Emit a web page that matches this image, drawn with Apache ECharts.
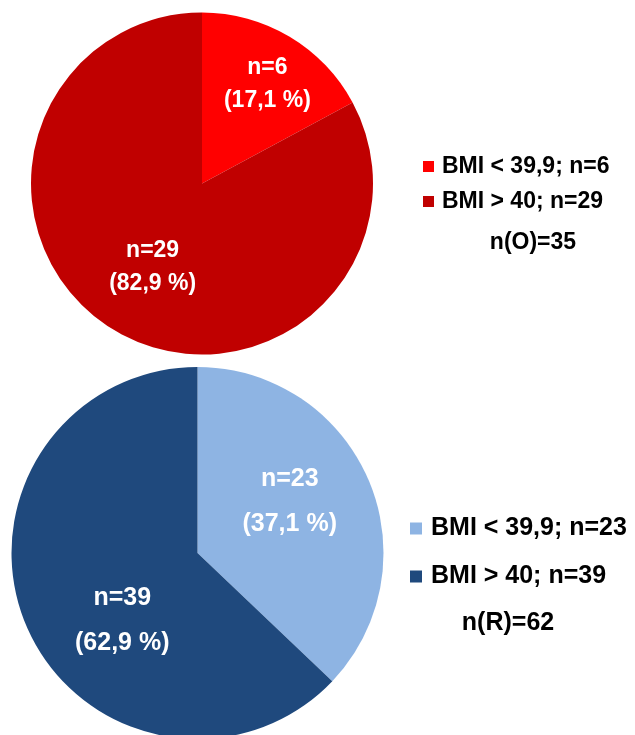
<!DOCTYPE html>
<html>
<head>
<meta charset="utf-8">
<script src="https://cdn.jsdelivr.net/npm/echarts@6/dist/echarts.min.js"></script>
<style>
  html, body { margin: 0; padding: 0; background: #ffffff; }
  #chart { width: 635px; height: 735px; }
</style>
</head>
<body>
<div id="chart"></div>
<script>
// Group O: BMI classes and counts
const namesO = ['BMI < 39,9; n=6', 'BMI > 40; n=29'];
const countsO = [6, 29];
const totalLabelO = 'n(O)=35';

// Group R: BMI classes and counts
const namesR = ['BMI < 39,9; n=23', 'BMI > 40; n=39'];
const countsR = [23, 39];
const totalLabelR = 'n(R)=62';

const FONT = 'Arial, "Liberation Sans", Helvetica, sans-serif';

function pctText(p) {
  return p.toFixed(1).replace('.', ',') + ' %';
}

function sliceLabel(fontSize, lineHeight) {
  return {
    show: true,
    position: 'inside',
    formatter: function (p) {
      return '{a|n=' + p.value + '}\n{b|(' + pctText(p.percent) + ')}';
    },
    rich: {
      a: { color: '#ffffff', fontSize: fontSize, fontWeight: 'bold', fontFamily: FONT, lineHeight: lineHeight, align: 'center' },
      b: { color: '#ffffff', fontSize: fontSize, fontWeight: 'bold', fontFamily: FONT, lineHeight: lineHeight, align: 'center' }
    }
  };
}

const chart = echarts.init(document.getElementById('chart'), null, { renderer: 'canvas' });

const option = {
  backgroundColor: '#ffffff',
  animation: false,
  legend: [
    {
      orient: 'vertical',
      left: 418,
      top: 150,
      data: namesO,
      icon: 'rect',
      itemWidth: 11,
      itemHeight: 11,
      itemGap: 12,
      selectedMode: false,
      textStyle: { fontSize: 23, fontWeight: 'bold', color: '#000000', fontFamily: FONT, padding: [0, 0, 0, 3] }
    },
    {
      orient: 'vertical',
      left: 405,
      top: 511,
      data: namesR,
      icon: 'rect',
      itemWidth: 12,
      itemHeight: 12,
      itemGap: 23,
      selectedMode: false,
      textStyle: { fontSize: 25, fontWeight: 'bold', color: '#000000', fontFamily: FONT, padding: [0, 0, 0, 4] }
    }
  ],
  graphic: [
    {
      type: 'text',
      x: 533,
      y: 243,
      style: { text: totalLabelO, fill: '#000000', font: 'bold 23px ' + FONT, align: 'center', verticalAlign: 'middle' }
    },
    {
      type: 'text',
      x: 508,
      y: 623,
      style: { text: totalLabelR, fill: '#000000', font: 'bold 25px ' + FONT, align: 'center', verticalAlign: 'middle' }
    }
  ],
  series: [
    {
      name: 'O',
      type: 'pie',
      center: [202, 183.5],
      radius: 171,
      startAngle: 90,
      clockwise: true,
      avoidLabelOverlap: false,
      labelLine: { show: false },
      label: sliceLabel(23, 33),
      labelLayout: function (p) {
        return p.dataIndex === 0 ? { dx: 20, dy: -23 } : { dx: -4, dy: 8 };
      },
      emphasis: { disabled: true },
      data: namesO.map(function (n, i) {
        return { name: n, value: countsO[i], itemStyle: { color: ['#ff0000', '#c00000'][i] } };
      })
    },
    {
      name: 'R',
      type: 'pie',
      center: [197.5, 553],
      radius: 186,
      startAngle: 90,
      clockwise: true,
      avoidLabelOverlap: false,
      labelLine: { show: false },
      label: sliceLabel(25, 45),
      labelLayout: function (p) {
        return p.dataIndex === 0 ? { dx: 4, dy: -14 } : { dx: 13, dy: 30 };
      },
      emphasis: { disabled: true },
      data: namesR.map(function (n, i) {
        return { name: n, value: countsR[i], itemStyle: { color: ['#8eb4e3', '#1f497d'][i] } };
      })
    }
  ]
};

chart.setOption(option);
</script>
</body>
</html>
